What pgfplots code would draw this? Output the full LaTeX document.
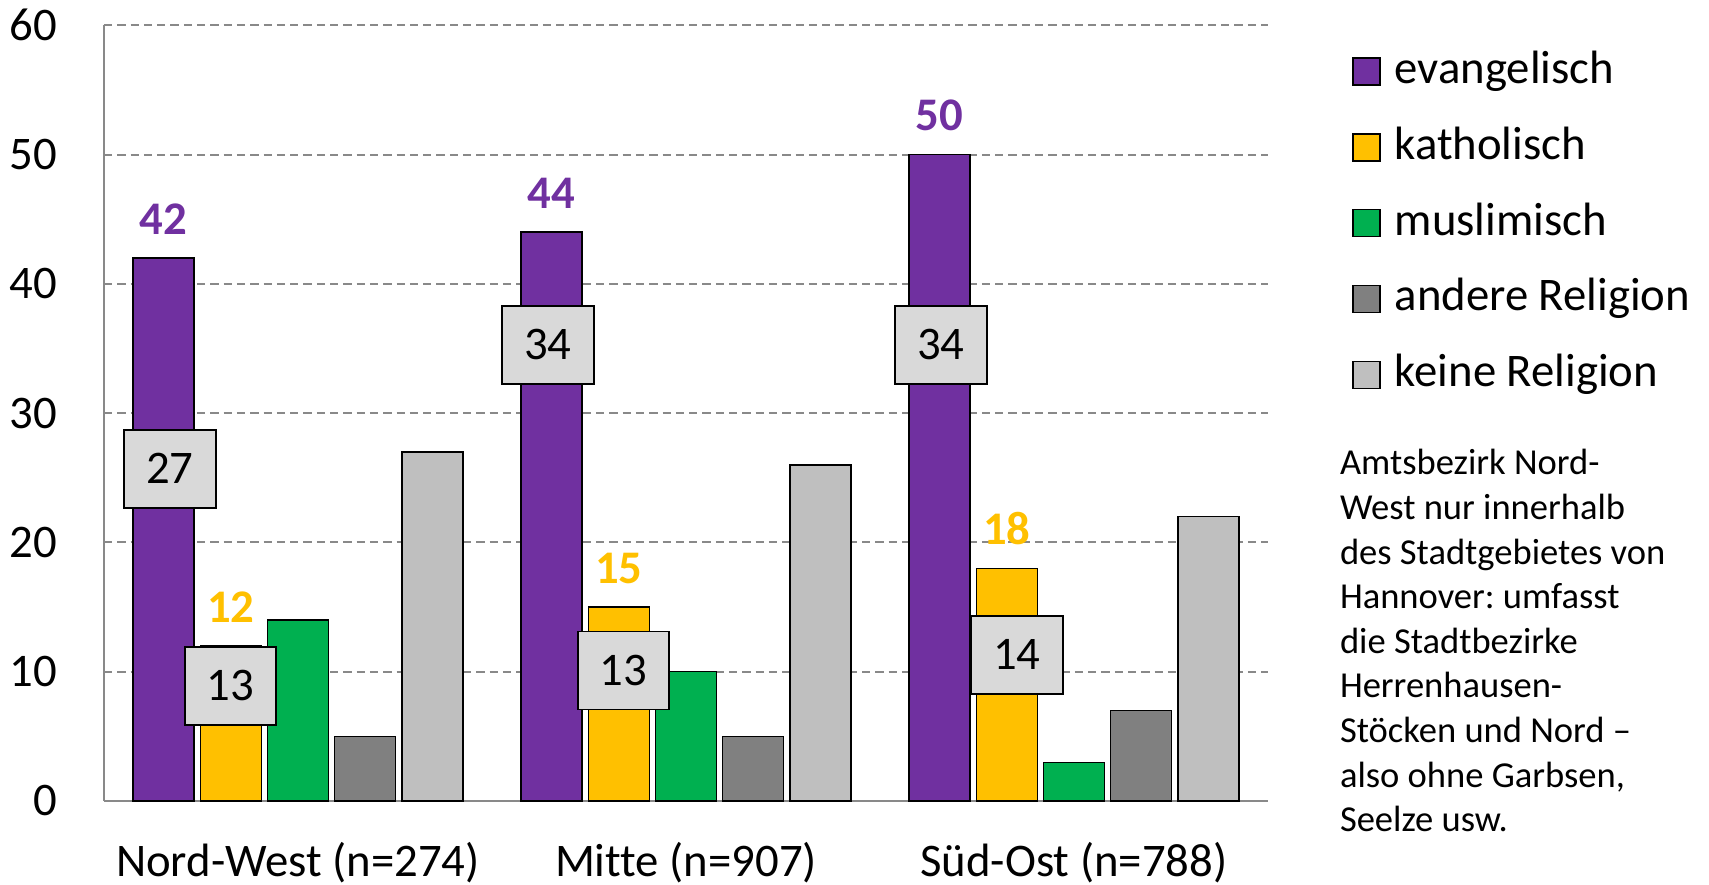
\documentclass[border=0pt]{standalone}
\usepackage{pgfplots}
\pgfplotsset{compat=1.18}
\usepackage{fontspec}
\setmainfont{Carlito}[Ligatures=NoCommon]
\frenchspacing

\definecolor{evang}{HTML}{7030A0}
\definecolor{kath}{HTML}{FFC000}
\definecolor{musl}{HTML}{00B050}
\definecolor{andere}{HTML}{808080}
\definecolor{keine}{HTML}{BFBFBF}
\definecolor{boxfill}{HTML}{D9D9D9}
\definecolor{linegray}{HTML}{898989}

\newcommand{\chartfont}{\fontsize{13.3}{16}\selectfont}
\newcommand{\notefont}{\fontsize{10.4}{12.7}\selectfont}

\tikzset{valbox/.style={fill=boxfill, draw=black, line width=0.5pt, minimum width=9.17mm,
    minimum height=7.8mm, inner sep=0pt, font=\chartfont}}

\begin{document}
\begin{tikzpicture}
% page frame in pixel units of the reference (origin top left)
\begin{scope}[x=0.1mm,y=-0.1mm,shift={(-10.4mm,80.1mm)}]
\useasboundingbox (0,0) rectangle (1709,885);
\end{scope}

\begin{axis}[
    at={(0,0)}, anchor=south west,
    scale only axis, width=116.4mm, height=77.57mm,
    xmin=-0.5, xmax=2.5, ymin=0, ymax=60,
    ybar=0.62mm, bar width=6.1mm,
    xtick={0,1,2},
    xticklabels={Nord-West (n=274), Mitte (n=907), Süd-Ost (n=788)},
    ytick={0,10,...,60},
    axis x line*=bottom, axis y line*=left,
    axis line style={-, draw=linegray, line width=0.55pt},
    major tick length=0pt,
    ymajorgrids,
    grid style={linegray, line width=0.55pt, dash pattern=on 0.83mm off 0.5mm},
    tick label style={font=\chartfont},
    /pgf/number format/assume math mode=true,
    yticklabel style={anchor=east, inner sep=0pt, xshift=-4.6mm},
    xticklabel style={anchor=base, inner sep=0pt, yshift=-7.57mm},
    clip=false,
]
% evangelisch
\addplot[draw=black, line width=0.4pt, fill=evang, nodes near coords,
    nodes near coords style={font=\chartfont\bfseries, text=evang, anchor=south,
        inner sep=0pt, yshift=2.3mm}]
    coordinates {(0,42) (1,44) (2,50)};
% katholisch
\addplot[draw=black, line width=0.4pt, fill=kath, nodes near coords,
    nodes near coords style={font=\chartfont\bfseries, text=kath, anchor=south,
        inner sep=0pt, yshift=2.3mm}]
    coordinates {(0,12) (1,15) (2,18)};
% muslimisch
\addplot[draw=black, line width=0.4pt, fill=musl]
    coordinates {(0,14) (1,10) (2,3)};
% andere Religion
\addplot[draw=black, line width=0.4pt, fill=andere]
    coordinates {(0,5) (1,5) (2,7)};
% keine Religion
\addplot[draw=black, line width=0.4pt, fill=keine]
    coordinates {(0,27) (1,26) (2,22)};

% boxed comparison values
\node[valbox] at (axis cs:-0.330,25.7) {27};
\node[valbox] at (axis cs:-0.174,8.9) {13};
\node[valbox] at (axis cs:0.644,35.3) {34};
\node[valbox] at (axis cs:0.839,10.1) {13};
\node[valbox] at (axis cs:1.657,35.3) {34};
\node[valbox] at (axis cs:1.853,11.3) {14};
\end{axis}

\begin{scope}[x=0.1mm,y=-0.1mm,shift={(-10.4mm,80.1mm)}]
% legend
\foreach \c/\t [count=\i from 0] in {evang/evangelisch, kath/katholisch,
        musl/muslimisch, andere/andere Religion, keine/keine Religion} {
    \pgfmathsetmacro\yy{71.7+75.8*\i}
    \filldraw[fill=\c, draw=black, line width=0.4pt] (1353,\yy-13.5) rectangle (1380,\yy+13.5);
    \node[anchor=base west, inner sep=0pt, font=\chartfont] at (1394,\yy+11.8) {\t};
}
% note
\foreach \l [count=\i from 0] in {Amtsbezirk Nord-, West nur innerhalb,
        des Stadtgebietes von, Hannover: umfasst, die Stadtbezirke, Herrenhausen-,
        Stöcken und Nord –, {also ohne Garbsen,}, Seelze usw.} {
    \node[anchor=base west, inner sep=0pt, font=\notefont] at (1339.3,475+44.6*\i) {\l};
}
\end{scope}
\end{tikzpicture}
\end{document}
